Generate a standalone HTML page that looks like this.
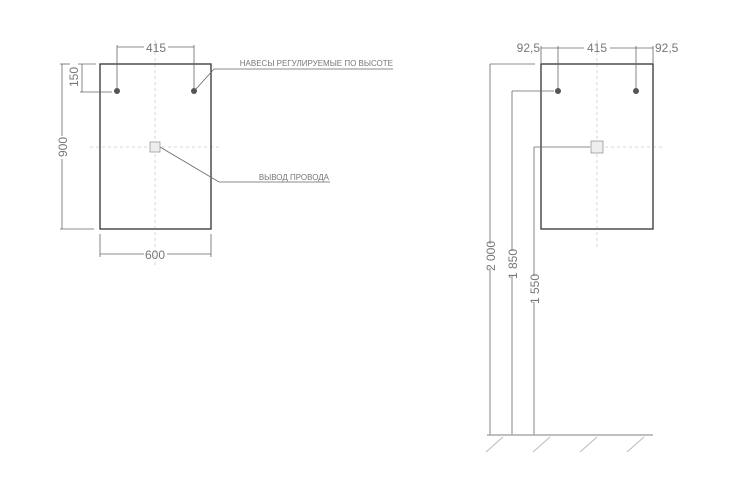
<!DOCTYPE html>
<html><head><meta charset="utf-8"><style>
html,body{margin:0;padding:0;background:#fff;}
svg{display:block}
text{font-family:"Liberation Sans Narrow","Liberation Sans","DejaVu Sans Condensed",sans-serif;fill:#777;}
</style></head><body>
<svg width="750" height="486" viewBox="0 0 750 486" xmlns="http://www.w3.org/2000/svg">
<g fill="none">
<!-- LEFT VIEW -->
<line x1="155" y1="40" x2="155" y2="265" stroke="#ccc" stroke-width="0.8" stroke-dasharray="3,3"/>
<line x1="90" y1="147" x2="222" y2="147" stroke="#ccc" stroke-width="0.8" stroke-dasharray="3,3"/>
<rect x="100" y="64" width="111" height="165" stroke="#333" stroke-width="1.3"/>
<!-- 415 -->
<g stroke="#666" stroke-width="0.8">
<line x1="117" y1="45" x2="117" y2="91"/><line x1="194" y1="45" x2="194" y2="91"/>
<line x1="117" y1="47" x2="144" y2="47"/><line x1="168" y1="47" x2="194" y2="47"/>
<!-- 150 -->
<line x1="82" y1="64" x2="82" y2="92"/><line x1="80" y1="92" x2="112" y2="92"/><line x1="78" y1="64" x2="96" y2="64"/>
<!-- 900 -->
<line x1="62" y1="64" x2="62" y2="136"/><line x1="62" y1="159" x2="62" y2="229"/>
<line x1="60" y1="64" x2="70" y2="64"/><line x1="60" y1="229" x2="94" y2="229"/>
<!-- 600 -->
<line x1="100" y1="234" x2="100" y2="257"/><line x1="211" y1="234" x2="211" y2="257"/>
<line x1="100" y1="254" x2="144" y2="254"/><line x1="167" y1="254" x2="211" y2="254"/>
<!-- leaders -->
<polyline points="196,89 214,69 393,69"/>
<polyline points="160,147 219,182 330,182"/>
</g>
<circle cx="117" cy="91" r="3" fill="#555"/>
<circle cx="194" cy="91" r="3" fill="#555"/>
<rect x="150" y="142" width="10" height="10" fill="#eee" stroke="#999" stroke-width="0.8"/>

<!-- RIGHT VIEW -->
<line x1="597" y1="40" x2="597" y2="250" stroke="#ccc" stroke-width="0.8" stroke-dasharray="3,3"/>
<line x1="605" y1="147" x2="664" y2="147" stroke="#ccc" stroke-width="0.8" stroke-dasharray="3,3"/>
<rect x="541" y="64" width="112" height="165" stroke="#333" stroke-width="1.3"/>
<g stroke="#666" stroke-width="0.8">
<line x1="541" y1="46" x2="541" y2="64"/><line x1="653" y1="46" x2="653" y2="64"/>
<line x1="558" y1="46" x2="558" y2="89"/><line x1="636" y1="46" x2="636" y2="89"/>
<line x1="541" y1="48" x2="584" y2="48"/><line x1="610" y1="48" x2="653" y2="48"/>
<!-- vertical dims -->
<line x1="490" y1="64" x2="490" y2="244"/><line x1="490" y1="268" x2="490" y2="435"/>
<line x1="490" y1="64" x2="535" y2="64"/>
<line x1="512" y1="91" x2="512" y2="251"/><line x1="512" y1="276" x2="512" y2="435"/>
<line x1="512" y1="91" x2="554" y2="91"/>
<line x1="534" y1="147" x2="534" y2="276"/><line x1="534" y1="302" x2="534" y2="435"/>
<line x1="534" y1="147" x2="590" y2="147"/>
</g>
<!-- floor -->
<line x1="487" y1="435" x2="653" y2="435" stroke="#aaa" stroke-width="1.5"/>
<g stroke="#bbb" stroke-width="1">
<line x1="503" y1="437" x2="486" y2="452"/><line x1="550" y1="437" x2="533" y2="452"/>
<line x1="597" y1="437" x2="580" y2="452"/><line x1="644" y1="437" x2="627" y2="452"/>
</g>
<circle cx="558" cy="91" r="3" fill="#555"/>
<circle cx="636" cy="91" r="3" fill="#555"/>
<rect x="591" y="141" width="12" height="12" fill="#eee" stroke="#999" stroke-width="0.8"/>
</g>

<text x="156" y="52" font-size="12" text-anchor="middle">415</text>
<text transform="translate(78,77) rotate(-90)" font-size="12" text-anchor="middle">150</text>
<text transform="translate(67,147) rotate(-90)" font-size="12" text-anchor="middle">900</text>
<text x="155" y="259" font-size="12" text-anchor="middle">600</text>
<text x="393" y="66" font-size="8" text-anchor="end">НАВЕСЫ РЕГУЛИРУЕМЫЕ ПО ВЫСОТЕ</text>
<text x="329" y="180" font-size="8" text-anchor="end">ВЫВОД ПРОВОДА</text>

<text x="540" y="52" font-size="12" text-anchor="end">92,5</text>
<text x="597" y="52" font-size="12" text-anchor="middle">415</text>
<text x="655" y="52" font-size="12">92,5</text>
<text transform="translate(495,256) rotate(-90)" font-size="12" text-anchor="middle">2 000</text>
<text transform="translate(517,264) rotate(-90)" font-size="12" text-anchor="middle">1 850</text>
<text transform="translate(539,289) rotate(-90)" font-size="12" text-anchor="middle">1 550</text>
</svg>
</body></html>
